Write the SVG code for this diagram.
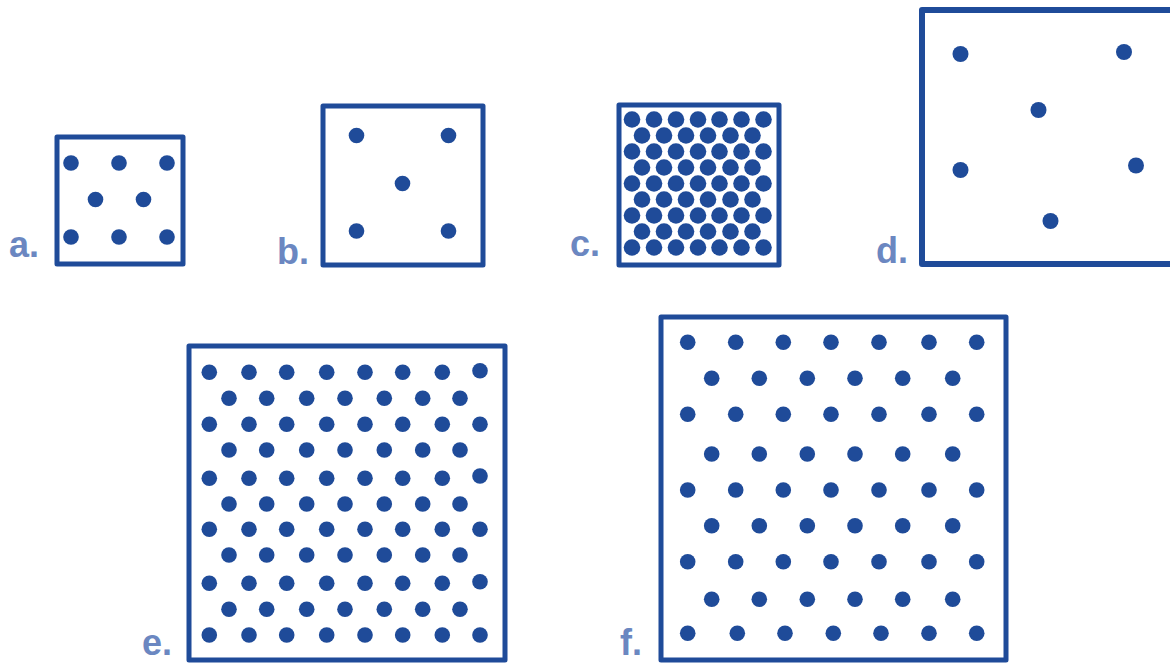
<svg xmlns="http://www.w3.org/2000/svg" width="1170" height="664" viewBox="0 0 1170 664">
<style>
.box{fill:none;stroke:#1f4b99;stroke-width:5;stroke-linejoin:round}
.dot{fill:#1f4b99}
.lbl{font-family:"Liberation Sans",Arial,sans-serif;font-weight:bold;font-size:36px;fill:#6b87c1}
</style>
<rect width="1170" height="664" fill="#ffffff"/>
<g id="panel-a">
<rect class="box" x="57" y="137" width="126" height="127"/>
<g class="dot">
<circle cx="71" cy="163" r="7.8"/><circle cx="119" cy="163" r="7.8"/><circle cx="167" cy="163" r="7.8"/>
<circle cx="95.5" cy="199.5" r="7.8"/><circle cx="143.5" cy="199.5" r="7.8"/>
<circle cx="71" cy="237" r="7.8"/><circle cx="119" cy="237" r="7.8"/><circle cx="167" cy="237" r="7.8"/>
</g>
<text class="lbl" x="9" y="257">a.</text>
</g>
<g id="panel-b">
<rect class="box" x="323" y="106" width="160" height="159"/>
<g class="dot">
<circle cx="356.5" cy="135.5" r="7.8"/><circle cx="448.5" cy="135.5" r="7.8"/>
<circle cx="402.5" cy="183.5" r="7.8"/>
<circle cx="356.5" cy="231" r="7.8"/><circle cx="448.5" cy="231" r="7.8"/>
</g>
<text class="lbl" x="277" y="264">b.</text>
</g>
<g id="panel-c">
<rect class="box" x="619" y="105" width="160" height="160"/>
<g class="dot">
<circle cx="632" cy="119.5" r="8.3"/><circle cx="654" cy="119.5" r="8.3"/><circle cx="676" cy="119.5" r="8.3"/><circle cx="698" cy="119.5" r="8.3"/><circle cx="719.5" cy="119.5" r="8.3"/><circle cx="741.5" cy="119.5" r="8.3"/><circle cx="763.5" cy="119.5" r="8.3"/>
<circle cx="642" cy="135.5" r="8.3"/><circle cx="664" cy="135.5" r="8.3"/><circle cx="686" cy="135.5" r="8.3"/><circle cx="708" cy="135.5" r="8.3"/><circle cx="730.5" cy="135.5" r="8.3"/><circle cx="752.5" cy="135.5" r="8.3"/>
<circle cx="632" cy="151.5" r="8.3"/><circle cx="654" cy="151.5" r="8.3"/><circle cx="676" cy="151.5" r="8.3"/><circle cx="698" cy="151.5" r="8.3"/><circle cx="719.5" cy="151.5" r="8.3"/><circle cx="741.5" cy="151.5" r="8.3"/><circle cx="763.5" cy="151.5" r="8.3"/>
<circle cx="642" cy="167.5" r="8.3"/><circle cx="664" cy="167.5" r="8.3"/><circle cx="686" cy="167.5" r="8.3"/><circle cx="708" cy="167.5" r="8.3"/><circle cx="730.5" cy="167.5" r="8.3"/><circle cx="752.5" cy="167.5" r="8.3"/>
<circle cx="632" cy="183.5" r="8.3"/><circle cx="654" cy="183.5" r="8.3"/><circle cx="676" cy="183.5" r="8.3"/><circle cx="698" cy="183.5" r="8.3"/><circle cx="719.5" cy="183.5" r="8.3"/><circle cx="741.5" cy="183.5" r="8.3"/><circle cx="763.5" cy="183.5" r="8.3"/>
<circle cx="642" cy="199.5" r="8.3"/><circle cx="664" cy="199.5" r="8.3"/><circle cx="686" cy="199.5" r="8.3"/><circle cx="708" cy="199.5" r="8.3"/><circle cx="730.5" cy="199.5" r="8.3"/><circle cx="752.5" cy="199.5" r="8.3"/>
<circle cx="632" cy="215.5" r="8.3"/><circle cx="654" cy="215.5" r="8.3"/><circle cx="676" cy="215.5" r="8.3"/><circle cx="698" cy="215.5" r="8.3"/><circle cx="719.5" cy="215.5" r="8.3"/><circle cx="741.5" cy="215.5" r="8.3"/><circle cx="763.5" cy="215.5" r="8.3"/>
<circle cx="642" cy="231.5" r="8.3"/><circle cx="664" cy="231.5" r="8.3"/><circle cx="686" cy="231.5" r="8.3"/><circle cx="708" cy="231.5" r="8.3"/><circle cx="730.5" cy="231.5" r="8.3"/><circle cx="752.5" cy="231.5" r="8.3"/>
<circle cx="632" cy="247.5" r="8.3"/><circle cx="654" cy="247.5" r="8.3"/><circle cx="676" cy="247.5" r="8.3"/><circle cx="698" cy="247.5" r="8.3"/><circle cx="719.5" cy="247.5" r="8.3"/><circle cx="741.5" cy="247.5" r="8.3"/><circle cx="763.5" cy="247.5" r="8.3"/>
</g>
<text class="lbl" x="570" y="256">c.</text>
</g>
<g id="panel-d">
<rect class="box" x="922" y="10" width="270" height="254" style="stroke-width:6"/>
<g class="dot">
<circle cx="960.5" cy="54" r="8"/><circle cx="1124" cy="52" r="8"/>
<circle cx="1038.5" cy="110" r="8"/>
<circle cx="960.5" cy="170" r="8"/><circle cx="1136" cy="165.5" r="8"/>
<circle cx="1050.5" cy="221" r="8"/>
</g>
<text class="lbl" x="876" y="263">d.</text>
</g>
<g id="panel-e">
<rect class="box" x="189" y="346" width="316" height="314"/>
<g class="dot">
<circle cx="209.3" cy="372.3" r="7.8"/><circle cx="249" cy="372.3" r="7.8"/><circle cx="286.7" cy="372.3" r="7.8"/><circle cx="326.7" cy="372.3" r="7.8"/><circle cx="365" cy="372.3" r="7.8"/><circle cx="402.7" cy="372.3" r="7.8"/><circle cx="442.3" cy="372.3" r="7.8"/><circle cx="480" cy="370.7" r="7.8"/>
<circle cx="229" cy="398.3" r="7.8"/><circle cx="266.7" cy="398.3" r="7.8"/><circle cx="306.7" cy="398.3" r="7.8"/><circle cx="345" cy="398.3" r="7.8"/><circle cx="384.3" cy="398.3" r="7.8"/><circle cx="422.7" cy="398.3" r="7.8"/><circle cx="460" cy="398.3" r="7.8"/>
<circle cx="209.3" cy="424.3" r="7.8"/><circle cx="249" cy="424.3" r="7.8"/><circle cx="286.7" cy="424.3" r="7.8"/><circle cx="326.7" cy="424.3" r="7.8"/><circle cx="365" cy="424.3" r="7.8"/><circle cx="402.7" cy="424.3" r="7.8"/><circle cx="442.3" cy="424.3" r="7.8"/><circle cx="480" cy="424.3" r="7.8"/>
<circle cx="229" cy="450" r="7.8"/><circle cx="266.7" cy="450" r="7.8"/><circle cx="306.7" cy="450" r="7.8"/><circle cx="345" cy="450" r="7.8"/><circle cx="384.3" cy="450" r="7.8"/><circle cx="422.7" cy="450" r="7.8"/><circle cx="460" cy="450" r="7.8"/>
<circle cx="209.3" cy="478.3" r="7.8"/><circle cx="249" cy="478.3" r="7.8"/><circle cx="286.7" cy="478.3" r="7.8"/><circle cx="326.7" cy="478.3" r="7.8"/><circle cx="365" cy="478.3" r="7.8"/><circle cx="402.7" cy="478.3" r="7.8"/><circle cx="442.3" cy="478.3" r="7.8"/><circle cx="480" cy="476" r="7.8"/>
<circle cx="229" cy="504" r="7.8"/><circle cx="266.7" cy="504" r="7.8"/><circle cx="306.7" cy="504" r="7.8"/><circle cx="345" cy="504" r="7.8"/><circle cx="384.3" cy="504" r="7.8"/><circle cx="422.7" cy="504" r="7.8"/><circle cx="460" cy="504" r="7.8"/>
<circle cx="209.3" cy="529.3" r="7.8"/><circle cx="249" cy="529.3" r="7.8"/><circle cx="286.7" cy="529.3" r="7.8"/><circle cx="326.7" cy="529.3" r="7.8"/><circle cx="365" cy="529.3" r="7.8"/><circle cx="402.7" cy="529.3" r="7.8"/><circle cx="442.3" cy="529.3" r="7.8"/><circle cx="480" cy="529.3" r="7.8"/>
<circle cx="229" cy="555" r="7.8"/><circle cx="266.7" cy="555" r="7.8"/><circle cx="306.7" cy="555" r="7.8"/><circle cx="345" cy="555" r="7.8"/><circle cx="384.3" cy="555" r="7.8"/><circle cx="422.7" cy="555" r="7.8"/><circle cx="460" cy="555" r="7.8"/>
<circle cx="209.3" cy="583.3" r="7.8"/><circle cx="249" cy="583.3" r="7.8"/><circle cx="286.7" cy="583.3" r="7.8"/><circle cx="326.7" cy="583.3" r="7.8"/><circle cx="365" cy="583.3" r="7.8"/><circle cx="402.7" cy="583.3" r="7.8"/><circle cx="442.3" cy="583.3" r="7.8"/><circle cx="480" cy="581.7" r="7.8"/>
<circle cx="229" cy="609.3" r="7.8"/><circle cx="266.7" cy="609.3" r="7.8"/><circle cx="306.7" cy="609.3" r="7.8"/><circle cx="345" cy="609.3" r="7.8"/><circle cx="384.3" cy="609.3" r="7.8"/><circle cx="422.7" cy="609.3" r="7.8"/><circle cx="460" cy="609.3" r="7.8"/>
<circle cx="209.3" cy="635" r="7.8"/><circle cx="249" cy="635" r="7.8"/><circle cx="286.7" cy="635" r="7.8"/><circle cx="326.7" cy="635" r="7.8"/><circle cx="365" cy="635" r="7.8"/><circle cx="402.7" cy="635" r="7.8"/><circle cx="442.3" cy="635" r="7.8"/><circle cx="480" cy="635" r="7.8"/>
</g>
<text class="lbl" x="142" y="655">e.</text>
</g>
<g id="panel-f">
<rect class="box" x="661" y="317" width="345" height="343"/>
<g class="dot">
<circle cx="687.7" cy="342.3" r="7.8"/><circle cx="735.7" cy="342.3" r="7.8"/><circle cx="783.3" cy="342.3" r="7.8"/><circle cx="831" cy="342.3" r="7.8"/><circle cx="879" cy="342.3" r="7.8"/><circle cx="929" cy="342.3" r="7.8"/><circle cx="976.7" cy="342.3" r="7.8"/>
<circle cx="711.7" cy="378.3" r="7.8"/><circle cx="759.3" cy="378.3" r="7.8"/><circle cx="807.3" cy="378.3" r="7.8"/><circle cx="855" cy="378.3" r="7.8"/><circle cx="902.7" cy="378.3" r="7.8"/><circle cx="952.7" cy="378.3" r="7.8"/>
<circle cx="687.7" cy="414.3" r="7.8"/><circle cx="735.7" cy="414.3" r="7.8"/><circle cx="783.3" cy="414.3" r="7.8"/><circle cx="831" cy="414.3" r="7.8"/><circle cx="879" cy="414.3" r="7.8"/><circle cx="929" cy="414.3" r="7.8"/><circle cx="976.7" cy="414.3" r="7.8"/>
<circle cx="711.7" cy="454" r="7.8"/><circle cx="759.3" cy="454" r="7.8"/><circle cx="807.3" cy="454" r="7.8"/><circle cx="855" cy="454" r="7.8"/><circle cx="902.7" cy="454" r="7.8"/><circle cx="952.7" cy="454" r="7.8"/>
<circle cx="687.7" cy="490" r="7.8"/><circle cx="735.7" cy="490" r="7.8"/><circle cx="783.3" cy="490" r="7.8"/><circle cx="831" cy="490" r="7.8"/><circle cx="879" cy="490" r="7.8"/><circle cx="929" cy="490" r="7.8"/><circle cx="976.7" cy="490" r="7.8"/>
<circle cx="711.7" cy="525.7" r="7.8"/><circle cx="759.3" cy="525.7" r="7.8"/><circle cx="807.3" cy="525.7" r="7.8"/><circle cx="855" cy="525.7" r="7.8"/><circle cx="902.7" cy="525.7" r="7.8"/><circle cx="952.7" cy="525.7" r="7.8"/>
<circle cx="687.7" cy="561.7" r="7.8"/><circle cx="735.7" cy="561.7" r="7.8"/><circle cx="783.3" cy="561.7" r="7.8"/><circle cx="831" cy="561.7" r="7.8"/><circle cx="879" cy="561.7" r="7.8"/><circle cx="929" cy="561.7" r="7.8"/><circle cx="976.7" cy="561.7" r="7.8"/>
<circle cx="711.7" cy="599.3" r="7.8"/><circle cx="759.3" cy="599.3" r="7.8"/><circle cx="807.3" cy="599.3" r="7.8"/><circle cx="855" cy="599.3" r="7.8"/><circle cx="902.7" cy="599.3" r="7.8"/><circle cx="952.7" cy="599.3" r="7.8"/>
<circle cx="687.7" cy="633.3" r="7.8"/><circle cx="737.3" cy="633.3" r="7.8"/><circle cx="785" cy="633.3" r="7.8"/><circle cx="833.3" cy="633.3" r="7.8"/><circle cx="881" cy="633.3" r="7.8"/><circle cx="929" cy="633.3" r="7.8"/><circle cx="976.7" cy="633.3" r="7.8"/>
</g>
<text class="lbl" x="620" y="655">f.</text>
</g>
<g id="connectors"></g>
</svg>
